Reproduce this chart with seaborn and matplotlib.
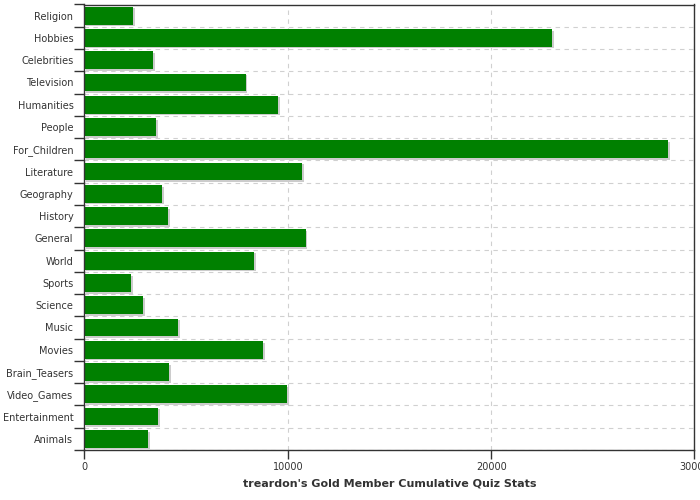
import numpy as np
import pandas as pd
import matplotlib
matplotlib.use('Agg')
import matplotlib.pyplot as plt
import matplotlib.patheffects as pe
import seaborn as sns

categories = ['Religion', 'Hobbies', 'Celebrities', 'Television', 'Humanities', 'People',
              'For_Children', 'Literature', 'Geography', 'History', 'General', 'World',
              'Sports', 'Science', 'Music', 'Movies', 'Brain_Teasers', 'Video_Games',
              'Entertainment', 'Animals']
values = [2390, 23000, 3380, 7930, 9540, 3530, 28720, 10720, 3820, 4120, 10870, 8360,
          2290, 2880, 4610, 8800, 4180, 9980, 3620, 3130]
xticks = [0, 10000, 20000, 30000]

df = pd.DataFrame({'category': categories, 'value': values})

sns.set_style('white')
plt.rcParams['font.family'] = ['DejaVu Sans']

fig = plt.figure(figsize=(7, 5), dpi=100)
ax = fig.add_axes([0.1207, 0.1, 0.8714, 0.891])

sns.barplot(data=df, x='value', y='category', orient='h', color='#008000',
            saturation=1, width=0.8, ax=ax)

for bar in ax.patches:
    bar.set_edgecolor('none')
    bar.set_path_effects([pe.SimplePatchShadow(offset=(1.2, -1.2), shadow_rgbFace='#cccccc', alpha=1),
                          pe.Normal()])

n = len(categories)
ax.set_xlim(0, 30000)
ax.set_ylim(n - 0.5, -0.5)

# ticks at category boundaries, labels in the middle
ax.set_yticks(np.arange(n + 1) - 0.5)
ax.set_yticklabels([])
ax.set_yticks(np.arange(n), minor=True)
ax.set_yticklabels(categories, minor=True)
ax.tick_params(axis='y', which='major', length=7.2, width=1, color='#333333', direction='out', left=True)
ax.tick_params(axis='y', which='minor', length=0, labelsize=7, labelcolor='#333333', pad=8)

ax.set_xticks(xticks)
ax.set_xticklabels([str(t) for t in xticks])
ax.tick_params(axis='x', length=6.8, width=1, color='#333333', direction='out', bottom=True,
               labelsize=7, labelcolor='#333333', pad=1.5)

ax.grid(True, axis='both', which='major', color='#d0d0d0', linestyle=(0, (4, 4)), linewidth=0.8)
ax.set_axisbelow(True)

for s in ax.spines.values():
    s.set_color('#333333')
    s.set_linewidth(1)

ax.set_ylabel('')
ax.set_xlabel("treardon's Gold Member Cumulative Quiz Stats", fontsize=8, fontweight='bold',
              color='#333333', labelpad=5)

fig.savefig('out.png', dpi=100)
